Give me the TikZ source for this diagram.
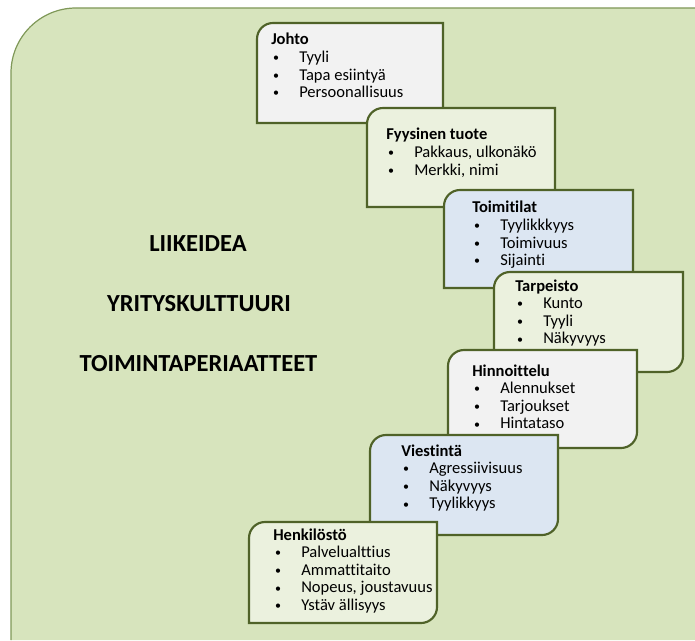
\documentclass[tikz,border=0pt]{standalone}
\usepackage{fontspec}
\setmainfont[Ligatures=NoCommon]{Carlito}
\begin{document}
\definecolor{bgfill}{HTML}{D7E4BD}
\definecolor{bgline}{HTML}{7F9858}
\definecolor{cardline}{HTML}{4F6228}
\definecolor{cardgray}{HTML}{F2F2F2}
\definecolor{cardgreen}{HTML}{EBF1DE}
\definecolor{cardblue}{HTML}{DCE6F2}
% small list bullet followed by the item indent
\newcommand{\bul}{\makebox[21pt][l]{\hspace{1.3pt}\raisebox{0.6pt}{\fontsize{9}{9}\selectfont•}}}
% card outline: rounded top-left and bottom-right corners
\newcommand{\card}[5]{%
  \draw[cardstyle, fill=#5] (#1,#4) -- (#1,#2-16) arc[start angle=180, end angle=90, radius=16]
    -- (#3,#2) -- (#3,#4+16) arc[start angle=0, end angle=-90, radius=16] -- cycle;}
\begin{tikzpicture}[x=0.75pt, y=0.75pt,
  cardstyle/.style={draw=cardline, line width=1.6pt},
  cardtext/.style={anchor=base west, inner sep=0pt, font=\fontsize{12.4}{13.2}\selectfont},
  sidetitle/.style={anchor=base, inner sep=0pt, font=\fontsize{18.4}{20}\selectfont\bfseries}]
\useasboundingbox (0,0) rectangle (695,640);
% background panel
\fill[bgfill] (11,0) -- (11,567) arc[start angle=180, end angle=90, radius=65] -- (695,632) -- (695,0) -- cycle;
\draw[bgline, line width=0.9pt] (11,0) -- (11,567) arc[start angle=180, end angle=90, radius=65] -- (695,632);

\node[sidetitle] (liikeidea) at (198,389) {LIIKEIDEA};
\node[sidetitle] (kulttuuri) at (199,329) {YRITYSKULTTUURI};
\node[sidetitle] (periaatteet) at (198.5,269) {TOIMINTAPERIAATTEET};

\card{257}{617}{443}{517}{cardgray}
\node[cardtext] (johto) at (271,595) {\begin{tabular}[t]{@{}l@{}}\textbf{Johto}\\
  \bul Tyyli\\ \bul Tapa esiintyä\\ \bul Persoonallisuus\end{tabular}};

\card{367}{532}{555}{433}{cardgreen}
\node[cardtext] (tuote) at (386,500) {\begin{tabular}[t]{@{}l@{}}\textbf{Fyysinen tuote}\\
  \bul Pakkaus, ulkonäkö\\ \bul Merkki, nimi\end{tabular}};

\card{444}{450}{633}{352}{cardblue}
\node[cardtext] (toimitilat) at (472,427) {\begin{tabular}[t]{@{}l@{}}\textbf{Toimitilat}\\
  \bul Tyylikkkyys\\ \bul Toimivuus\\ \bul Sijainti\end{tabular}};

\card{494}{368}{683}{268}{cardgreen}
\node[cardtext] (tarpeisto) at (515,349) {\begin{tabular}[t]{@{}l@{}}\textbf{Tarpeisto}\\
  \bul Kunto\\ \bul Tyyli\\ \bul Näkyvyys\end{tabular}};

\card{448}{290}{637}{192}{cardgray}
\node[cardtext] (hinnoittelu) at (472,264) {\begin{tabular}[t]{@{}l@{}}\textbf{Hinnoittelu}\\
  \bul Alennukset\\ \bul Tarjoukset\\ \bul Hintataso\end{tabular}};

\card{370}{205}{558}{105}{cardblue}
\node[cardtext] (viestinta) at (401,184) {\begin{tabular}[t]{@{}l@{}}\textbf{Viestintä}\\
  \bul Agressiivisuus\\ \bul Näkyvyys\\ \bul Tyylikkyys\end{tabular}};

\card{249}{118}{437}{17}{cardgreen}
\node[cardtext] (henkilosto) at (273,100) {\begin{tabular}[t]{@{}l@{}}\textbf{Henkilöstö}\\
  \bul Palvelualttius\\ \bul Ammattitaito\\ \bul Nopeus, joustavuus\\ \bul Ystäv ällisyys\end{tabular}};
\end{tikzpicture}
\end{document}
